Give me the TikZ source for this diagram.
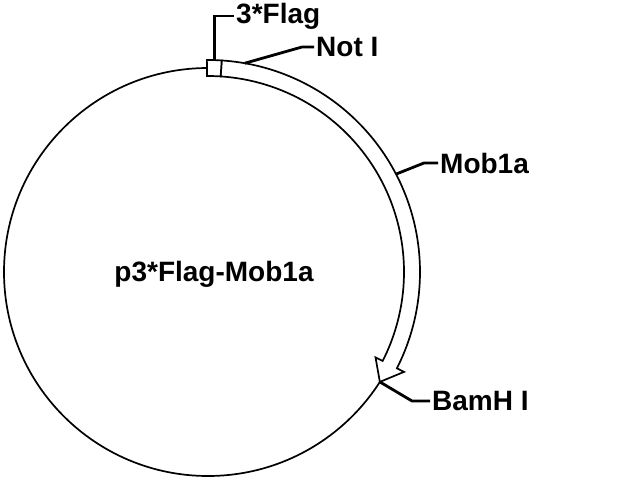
\documentclass[tikz,border=0pt]{standalone}
\usepackage{fontspec}
\setmainfont{Liberation Sans}
\usepackage{tikz}
\usetikzlibrary{positioning, calc}

\begin{document}
\begin{tikzpicture}[line join=miter, every node/.style={font=\fontsize{28}{33}\selectfont\bfseries, inner sep=2pt}, leader/.style={line width=2.8pt}, ringline/.style={line width=1.7pt}]
	\useasboundingbox (-208pt,-208pt) rectangle (432pt,272pt);
	% Define the plasmid circle
	\coordinate (c) at (0,0);
	\draw[ringline] (c) circle[radius=204pt];
	\node (name) at (6pt,-2pt) {p3*Flag-Mob1a};
	
	% Define the insert (ring with arrow head)
	\draw[ringline, fill=white] (86.3:212pt) arc[start angle=86.3, end angle=-27, radius=212pt]
		-- (-27:220pt) -- (-32.6:204pt) -- (-27:188pt) -- (-27:196pt)
		arc[start angle=-27, end angle=86.3, radius=196pt] -- cycle;
	\draw[ringline, fill=white] (90.3:196pt) -- (90.3:212pt) arc[start angle=90.3, end angle=86.3, radius=212pt]
		-- (86.3:196pt) arc[start angle=86.3, end angle=90.3, radius=196pt] -- cycle;
	
	% Define the labels
	\node[anchor=west] (flag) at (26pt,256pt) {3*Flag};
	\node[anchor=west] (notI) at (106pt,225pt) {Not I};
	\node[anchor=west] (mob) at (230pt,109pt) {Mob1a};
	\node[anchor=west] (bamH) at (222pt,-129pt) {BamH I};
	
	% Define the leader lines
	\coordinate (flagpt) at (88.3:212pt);
	\coordinate (notpt) at (80:212pt);
	\coordinate (mobpt) at (27.5:212pt);
	\coordinate (bampt) at (-32.6:204pt);
	\draw[leader] (flagpt) |- (flag.west);
	\draw[leader] (notpt) -- ([xshift=-12pt]notI.west) -- (notI.west);
	\draw[leader] (mobpt) -- ([xshift=-14pt]mob.west) -- (mob.west);
	\draw[leader] (bampt) -- ([xshift=-18pt]bamH.west) -- (bamH.west);
\end{tikzpicture}
\end{document}
